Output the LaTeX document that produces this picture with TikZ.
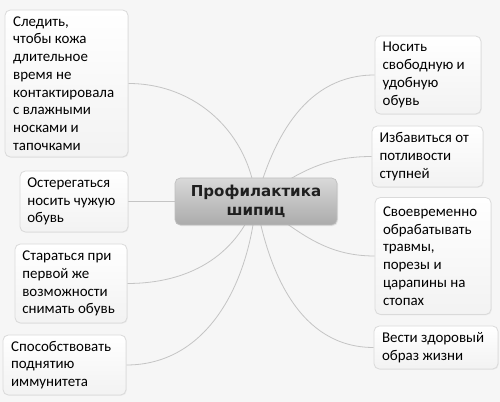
\documentclass[tikz,border=0pt]{standalone}
\usepackage{fontspec}
\setmainfont{Carlito}
\newfontfamily\titlefont{DejaVu Sans}
\usetikzlibrary{backgrounds,shadows}
\definecolor{bg}{HTML}{F6F6F6}
\definecolor{boxline}{HTML}{DADADA}
\definecolor{conn}{HTML}{C4C4C4}
\newcommand{\lines}[2]{\begin{minipage}{#1}\raggedright #2\end{minipage}}
\tikzset{
  leaf/.style={draw=boxline, line width=0.6pt, rounded corners=4pt,
    top color=white, bottom color=black!5, align=left, anchor=center,
    inner sep=0pt, font=\fontsize{11.2}{13.3}\selectfont, text=black,
    drop shadow={opacity=0.08, shadow xshift=0.6pt, shadow yshift=-0.6pt}},
  hub/.style={draw=black!25, line width=0.5pt, rounded corners=4pt,
    top color=black!15, bottom color=black!33, align=center,
    minimum width=121.5pt, minimum height=35.25pt,
    font=\titlefont\bfseries\fontsize{11.3}{14.2}\selectfont, text=black!88,
    drop shadow={opacity=0.15, shadow xshift=0.8pt, shadow yshift=-0.8pt}},
  link/.style={draw=conn, line width=0.6pt}
}
\begin{document}
\begin{tikzpicture}[x=0.75pt,y=-0.75pt]
\useasboundingbox (0,0) rectangle (500,402);
\node[hub] (c) at (256,201.5) {Профилактика\\шипиц};

\node[leaf, minimum width=92.25pt, minimum height=110.25pt] (l1) at (66.5,83.5)
  {\lines{80pt}{Следить,\\чтобы кожа\\длительное\\время не\\контактировала\\с влажными\\носками и\\тапочками}};
\node[leaf, minimum width=81pt, minimum height=45.75pt] (l2) at (74,201.5)
  {\lines{70pt}{Остерегаться\\носить чужую\\обувь}};
\node[leaf, minimum width=84pt, minimum height=59.25pt] (l3) at (71,283.5)
  {\lines{73pt}{Стараться при\\первой же\\возможности\\снимать обувь}};
\node[leaf, minimum width=92.25pt, minimum height=45pt] (l4) at (64.5,365)
  {\lines{80pt}{Способствовать\\поднятию\\иммунитета}};

\node[leaf, minimum width=79.5pt, minimum height=58.5pt] (r1) at (428,75)
  {\lines{68pt}{Носить\\свободную и\\удобную\\обувь}};
\node[leaf, minimum width=83.25pt, minimum height=45.75pt] (r2) at (427.5,156.5)
  {\lines{72pt}{Избавиться от\\потливости\\ступней}};
\node[leaf, minimum width=87pt, minimum height=87.75pt] (r3) at (433,256)
  {\lines{75pt}{Своевременно\\обрабатывать\\травмы,\\порезы и\\царапины на\\стопах}};
\node[leaf, minimum width=93pt, minimum height=32.25pt] (r4) at (436,347.5)
  {\lines{81pt}{Вести здоровый\\образ жизни}};

\begin{scope}[on background layer]
\fill[bg] (0,0) rectangle (500,402);
\draw[link] (c.center) to[out=95,in=0] (l1.east);
\draw[link] (c.center) -- (l2.east);
\draw[link] (c.center) to[out=-110,in=0] (l3.east);
\draw[link] (c.center) to[out=-95,in=0] (l4.east);
\draw[link] (c.center) to[out=75,in=180] (r1.west);
\draw[link] (c.center) to[out=35,in=180] (r2.west);
\draw[link] (c.center) to[out=-35,in=180] (r3.west);
\draw[link] (c.center) to[out=-80,in=180] (r4.west);
\end{scope}
\end{tikzpicture}
\end{document}
